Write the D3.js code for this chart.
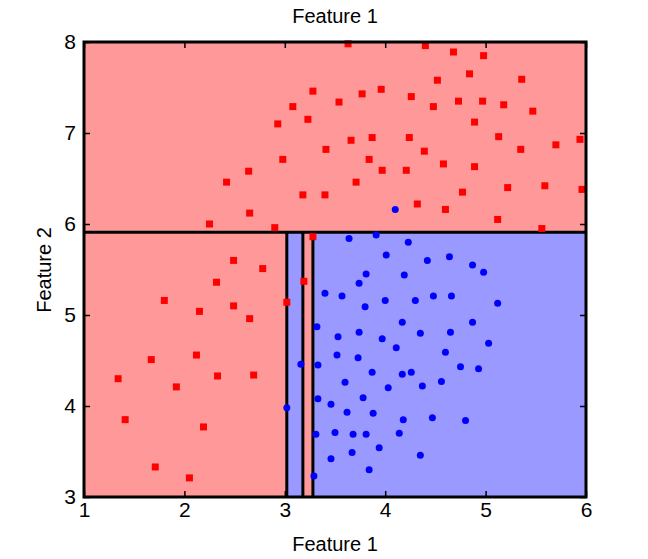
<!DOCTYPE html><html><head><meta charset="utf-8"><script src="https://cdn.jsdelivr.net/npm/d3@7"></script>
<style>body{margin:0;background:#fff}text{font-family:"Liberation Sans",Arial,sans-serif}</style></head><body><svg id="c" width="648" height="559"></svg><script>
const xTicks=[1,2,3,4,5,6], yTicks=[3,4,5,6,7,8];
const regions=[ // [x0,x1,y0,y1,class]
[1,6,5.91,8,"red"],[1,3.02,3,5.91,"red"],[3.02,3.18,3,5.91,"blue"],[3.18,3.28,3,5.91,"red"],[3.28,6,3,5.91,"blue"]];
const splitX=[3.02,3.18,3.28], splitY=[5.91];
const redX=[3.63,4.40,4.68,4.98,4.84,4.52,5.36,3.28,3.77,3.96,4.26,4.73,4.97,5.18,4.48,3.08,3.54,5.47,2.93,3.23,4.89,3.66,3.87,4.24,5.13,5.94,3.41,4.39,5.35,5.70,2.98,3.84,3.97,4.21,4.58,4.89,2.64,2.42,3.71,5.22,5.59,5.96,4.77,3.18,3.40,4.32,4.60,2.65,5.12,2.25,2.90,5.56,2.49,2.78,2.32,1.80,2.15,2.49,2.65,3.02,1.67,2.12,1.34,2.33,2.69,1.92,1.41,2.19,1.71,2.05,3.28,3.19];
const redY=[7.98,7.96,7.89,7.85,7.65,7.58,7.59,7.46,7.43,7.48,7.40,7.35,7.35,7.31,7.29,7.29,7.34,7.24,7.10,7.15,7.12,6.92,6.95,6.95,6.96,6.93,6.82,6.80,6.82,6.87,6.71,6.71,6.59,6.59,6.66,6.63,6.58,6.46,6.46,6.40,6.42,6.38,6.35,6.32,6.32,6.22,6.16,6.12,6.05,6.00,5.96,5.95,5.60,5.51,5.36,5.16,5.04,5.10,4.96,5.14,4.51,4.56,4.30,4.33,4.34,4.21,3.85,3.77,3.33,3.21,5.86,5.37];
const blueX=[4.10,3.40,3.32,3.16,3.33,3.02,3.33,3.46,3.31,3.50,3.46,3.29,3.64,3.91,4.23,4.01,4.42,4.64,4.87,4.98,3.81,4.19,3.74,3.57,4.00,4.30,4.48,4.66,5.12,3.80,4.17,4.87,3.53,3.74,3.97,4.35,4.65,5.03,4.11,3.52,3.73,4.60,3.87,4.17,4.26,4.75,4.93,3.60,4.03,4.37,4.56,3.78,3.62,3.88,4.18,4.47,4.80,3.68,3.81,4.14,3.67,3.94,4.35,3.84];
const blueY=[6.16,5.24,4.87,4.46,4.45,3.98,4.08,4.02,3.69,3.71,3.42,3.23,5.84,5.88,5.80,5.66,5.60,5.64,5.55,5.47,5.45,5.44,5.35,5.21,5.16,5.16,5.21,5.21,5.13,5.09,4.92,4.92,4.76,4.81,4.74,4.80,4.81,4.69,4.64,4.56,4.53,4.59,4.37,4.35,4.37,4.43,4.41,4.26,4.20,4.22,4.27,4.09,3.93,3.92,3.85,3.87,3.84,3.69,3.69,3.70,3.49,3.54,3.46,3.30];
const svg=d3.select("#c");
const x=d3.scaleLinear().domain([1,6]).range([84,586]);
const y=d3.scaleLinear().domain([3,8]).range([497,42]);
const fill={red:"#ff9999",blue:"#9999ff"};
svg.selectAll("rect.r").data(regions).join("rect").attr("x",d=>x(d[0])).attr("width",d=>x(d[1])-x(d[0])).attr("y",d=>y(d[3])).attr("height",d=>y(d[2])-y(d[3])).attr("fill",d=>fill[d[4]]);
svg.append("line").attr("x1",x(1)).attr("x2",x(6)).attr("y1",y(splitY[0])).attr("y2",y(splitY[0])).attr("stroke","#000").attr("stroke-width",3);
splitX.forEach(v=>svg.append("line").attr("x1",x(v)).attr("x2",x(v)).attr("y1",y(3)).attr("y2",y(splitY[0])).attr("stroke","#000").attr("stroke-width",3));
const red=redX.map((v,i)=>[v,redY[i]]), blue=blueX.map((v,i)=>[v,blueY[i]]);
svg.selectAll("rect.p").data(red).join("rect").attr("x",d=>x(d[0])-3.5).attr("y",d=>y(d[1])-3.5).attr("width",7).attr("height",7).attr("fill","#ff0000");
svg.selectAll("circle").data(blue).join("circle").attr("cx",d=>x(d[0])).attr("cy",d=>y(d[1])).attr("r",3.5).attr("fill","#0000ff");
const g=svg.append("g");
g.append("g").attr("transform","translate(0,497)").call(d3.axisBottom(x).tickValues(xTicks).tickSize(-6).tickPadding(5).tickFormat(d3.format("d")));
g.append("g").attr("transform","translate(0,42)").call(d3.axisTop(x).tickValues(xTicks).tickSize(-6).tickFormat(""));
g.append("g").attr("transform","translate(84,0)").call(d3.axisLeft(y).tickValues(yTicks).tickSize(-6).tickPadding(8).tickFormat(d3.format("d")));
g.append("g").attr("transform","translate(586,0)").call(d3.axisRight(y).tickValues(yTicks).tickSize(-6).tickFormat(""));
g.selectAll(".domain").remove();
g.selectAll(".tick line").attr("stroke","#000").attr("stroke-width",1.5);
g.selectAll(".tick text").attr("font-size",21).attr("fill","#000").attr("font-family","Liberation Sans, Arial, sans-serif");
svg.append("rect").attr("x",84).attr("y",42).attr("width",502).attr("height",455).attr("fill","none").attr("stroke","#000").attr("stroke-width",3);
svg.append("text").attr("x",335).attr("y",23).attr("text-anchor","middle").attr("font-size",20).text("Feature 1");
svg.append("text").attr("x",335).attr("y",551).attr("text-anchor","middle").attr("font-size",20).text("Feature 1");
svg.append("text").attr("transform","translate(51,270) rotate(-90)").attr("text-anchor","middle").attr("font-size",20).text("Feature 2");
</script></body></html>
